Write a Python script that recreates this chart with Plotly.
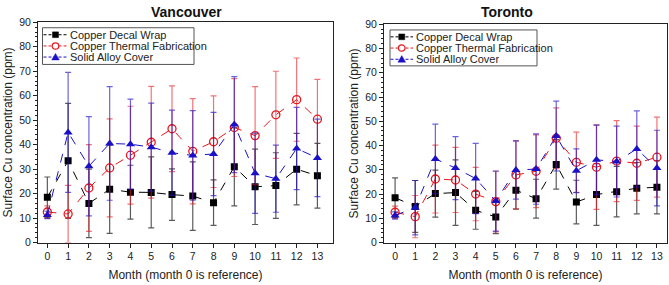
import plotly.graph_objects as go

months = list(range(14))
series_names = ["Copper Decal Wrap", "Copper Thermal Fabrication", "Solid Alloy Cover"]
panel_titles = ["Vancouver", "Toronto"]
x_title = "Month (month 0 is reference)"
y_title = "Surface Cu concentration (ppm)"
y_ticks = [0, 10, 20, 30, 40, 50, 60, 70, 80, 90]

# Vancouver
van_decal = [18.5, 33.4, 16.0, 21.8, 20.6, 20.5, 19.6, 19.0, 16.3, 31.0, 22.8, 23.3, 30.0, 27.3]
van_decal_err = [8.3, 23.5, 14.0, 18.0, 11.0, 14.5, 10.5, 14.0, 9.3, 16.0, 15.4, 13.4, 14.6, 13.2]
van_thermal = [12.5, 11.7, 22.3, 30.5, 35.7, 41.0, 46.5, 37.3, 41.2, 47.0, 43.7, 52.2, 58.4, 50.4]
van_thermal_err = [2.5, 11.7, 17.7, 20.0, 20.0, 22.8, 17.5, 21.5, 18.7, 20.0, 20.0, 17.8, 17.0, 16.3]
van_alloy = [11.3, 45.0, 31.2, 40.5, 40.2, 39.0, 36.7, 35.6, 36.2, 48.2, 28.3, 26.1, 38.4, 34.6]
van_alloy_err = [1.5, 24.5, 20.3, 23.2, 18.4, 18.0, 17.4, 18.3, 17.0, 19.6, 16.4, 13.7, 16.8, 15.8]

# Toronto
tor_decal = [18.5, 14.9, 20.2, 20.6, 13.3, 10.6, 21.6, 18.1, 32.2, 16.7, 19.8, 21.0, 22.4, 22.8]
tor_decal_err = [8.2, 10.7, 9.7, 13.5, 7.8, 6.9, 7.8, 8.0, 10.2, 9.0, 12.7, 10.4, 10.6, 11.0]
tor_thermal = [12.5, 10.7, 26.2, 25.8, 20.0, 16.9, 27.9, 29.4, 43.0, 33.1, 31.1, 33.6, 32.7, 35.2]
tor_thermal_err = [2.5, 8.7, 14.0, 13.4, 11.0, 12.5, 14.0, 15.0, 12.5, 12.4, 17.4, 16.7, 15.3, 16.5]
tor_alloy = [11.2, 14.4, 34.5, 30.7, 26.4, 17.1, 29.9, 30.3, 43.9, 29.6, 34.1, 33.4, 38.6, 30.7]
tor_alloy_err = [1.5, 11.2, 14.3, 13.0, 14.5, 12.4, 12.0, 14.5, 14.4, 9.0, 14.3, 14.6, 15.7, 15.6]

colors = ["#000000", "#e8151b", "#1a10c8"]
err_colors = ["rgba(50,50,50,0.8)", "rgba(232,21,27,0.6)", "rgba(26,16,200,0.65)"]
FONT = "Liberation Sans, Arial, sans-serif"
W, H = 669, 285


def px(x):
    return x / W


def py(y):
    return 1 - y / H


fig = go.Figure()


def add_panel(vals, errs, xa, ya):
    for i, (v, e) in enumerate(zip(vals, errs)):
        if i == 0:
            marker = dict(symbol="square", size=7, color=colors[0])
        elif i == 1:
            marker = dict(symbol="circle-open", size=8, color=colors[1], line=dict(width=1.3, color=colors[1]))
        else:
            marker = dict(symbol="triangle-up", size=8, color=colors[2])
        fig.add_trace(go.Scatter(
            x=months, y=v, mode="lines+markers", name=series_names[i],
            line=dict(color=colors[i], width=1, dash="dash"),
            marker=marker,
            error_y=dict(type="data", array=e, visible=True, color=err_colors[i], thickness=1.2, width=3),
            xaxis=xa, yaxis=ya, showlegend=False,
        ))


add_panel([van_decal, van_thermal, van_alloy], [van_decal_err, van_thermal_err, van_alloy_err], "x", "y")
add_panel([tor_decal, tor_thermal, tor_alloy], [tor_decal_err, tor_thermal_err, tor_alloy_err], "x2", "y2")

axis_common = dict(showline=True, linecolor="#222", linewidth=1, mirror=True, showgrid=False,
                   zeroline=False, ticks="outside", ticklen=4, tickcolor="#222",
                   tickfont=dict(family=FONT, size=10.5, color="#222"))

xa = dict(axis_common, tickmode="array", tickvals=months, ticktext=[str(m) for m in months],
          title=dict(text=x_title, font=dict(family=FONT, size=12, color="#222"), standoff=9))
ya = dict(axis_common, range=[0, 90], tickmode="array", tickvals=y_ticks,
          minor=dict(ticks="outside", ticklen=2, dtick=2, tickcolor="#222"),
          title=dict(text=y_title, font=dict(family=FONT, size=12, color="#222"), standoff=4))

fig.update_layout(
    width=W, height=H,
    margin=dict(l=0, r=0, t=0, b=0),
    paper_bgcolor="white", plot_bgcolor="white",
    xaxis=dict(xa, domain=[px(38), px(333)], range=[-0.45, 13.75], anchor="y"),
    yaxis=dict(ya, domain=[py(247), py(17)], anchor="x"),
    xaxis2=dict(xa, domain=[px(384), px(667)], range=[-0.55, 13.5], anchor="y2"),
    yaxis2=dict(ya, domain=[py(247), py(19)], anchor="x2"),
    showlegend=False,
)

# panel titles
for title, xc in zip(panel_titles, [(38 + 333) / 2 + 1, (384 + 667) / 2 - 19]):
    fig.add_annotation(text="<b>" + title + "</b>", x=px(xc), y=py(6), xref="paper", yref="paper",
                       xanchor="center", yanchor="middle", showarrow=False,
                       font=dict(family=FONT, size=14, color="#111"))


# hand-drawn legend boxes
def draw_legend(x0, y0, x1, y1, rows, lx0, lx1, tx):
    fig.add_shape(type="rect", xref="paper", yref="paper", x0=px(x0), x1=px(x1), y0=py(y1), y1=py(y0),
                  line=dict(color="#555", width=1), fillcolor="white", layer="above")
    mx = (lx0 + lx1) / 2
    for i, ry in enumerate(rows):
        fig.add_shape(type="line", xref="paper", yref="paper", x0=px(lx0), x1=px(lx1), y0=py(ry), y1=py(ry),
                      line=dict(color=colors[i], width=1, dash="3px,2px"), layer="above")
        if i == 0:
            fig.add_shape(type="rect", xref="paper", yref="paper", x0=px(mx - 3), x1=px(mx + 3),
                          y0=py(ry + 3), y1=py(ry - 3), line=dict(color=colors[0], width=0.5),
                          fillcolor=colors[0], layer="above")
        elif i == 1:
            fig.add_shape(type="circle", xref="paper", yref="paper", x0=px(mx - 3.3), x1=px(mx + 3.3),
                          y0=py(ry + 3.3), y1=py(ry - 3.3), line=dict(color=colors[1], width=1.2),
                          fillcolor="white", layer="above")
        else:
            path = "M {} {} L {} {} L {} {} Z".format(px(mx - 3.8), py(ry + 3), px(mx + 3.8), py(ry + 3),
                                                     px(mx), py(ry - 3.8))
            fig.add_shape(type="path", xref="paper", yref="paper", path=path,
                          line=dict(color=colors[2], width=0.5), fillcolor=colors[2], layer="above")
        fig.add_annotation(text=series_names[i], x=px(tx), y=py(ry), xref="paper", yref="paper",
                           xanchor="left", yanchor="middle", showarrow=False,
                           font=dict(family=FONT, size=11, color="#222"))


draw_legend(42.5, 22.7, 194, 61, [30, 41.7, 53.3], 43.5, 67.5, 68)
draw_legend(390, 25, 537, 62.5, [32.2, 43.9, 55.6], 390.5, 413, 414)

fig.write_html("out.html", config={"displayModeBar": False},
               post_script="document.body.style.margin='0px';")
